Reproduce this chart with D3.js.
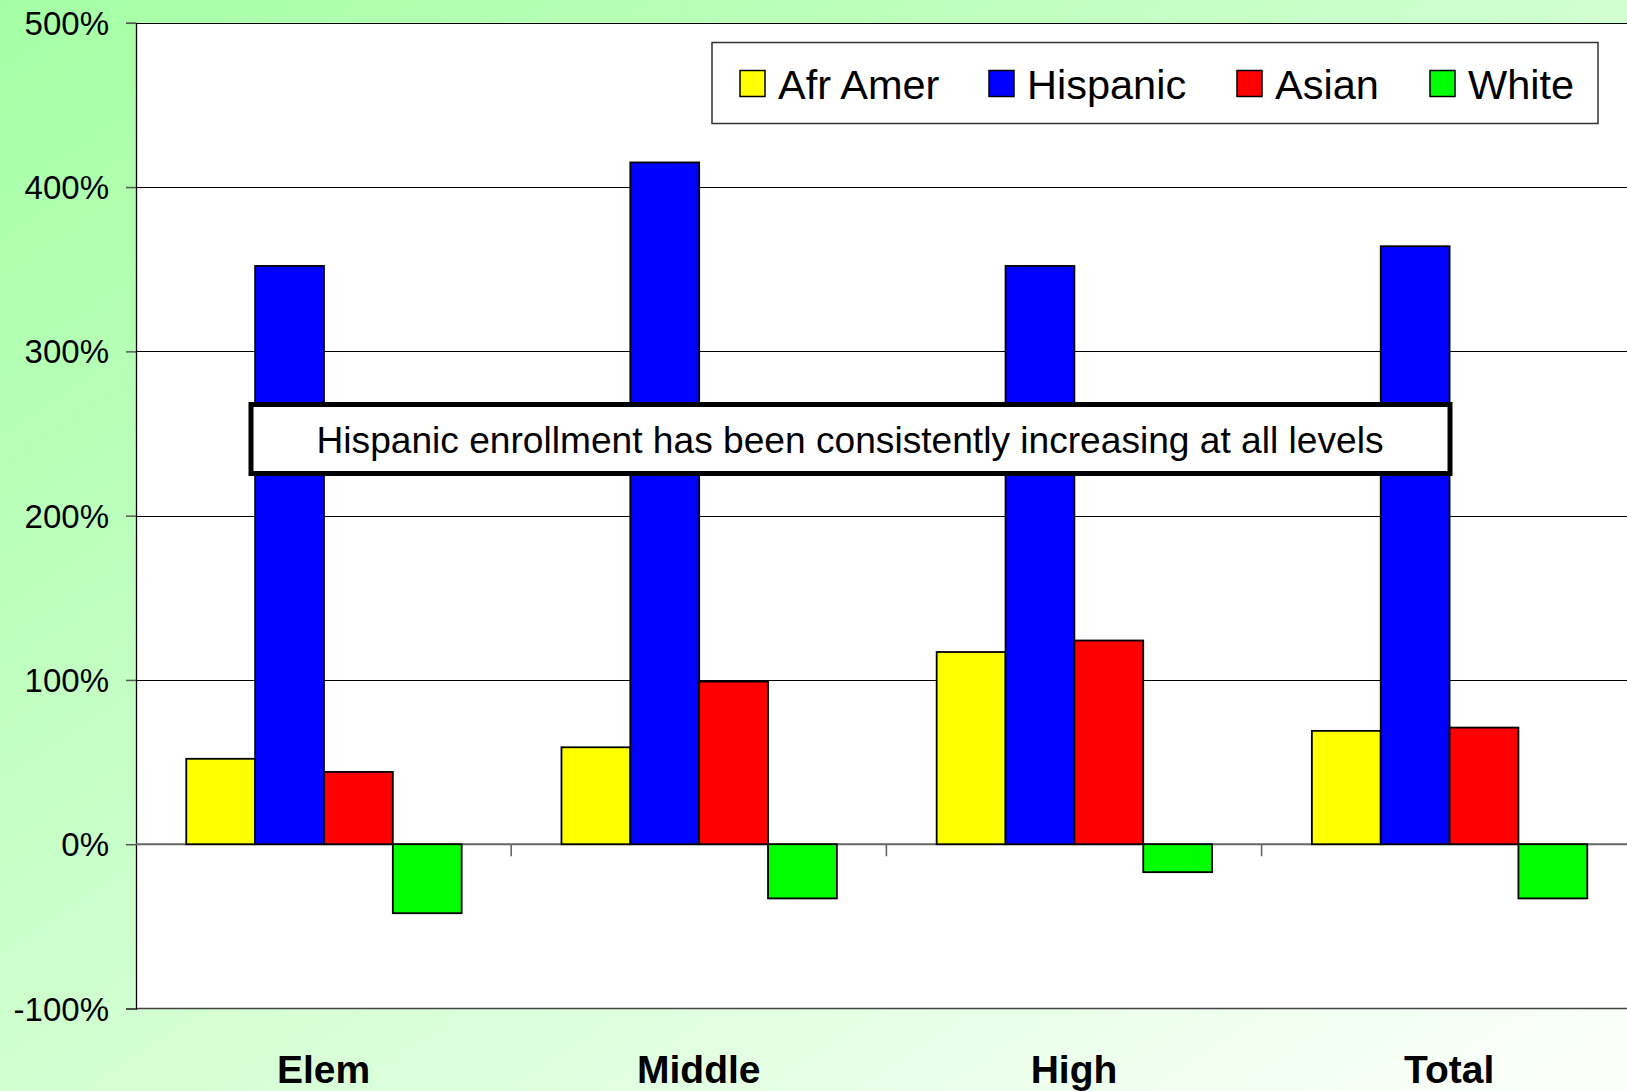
<!DOCTYPE html>
<html>
<head>
<meta charset="utf-8">
<script src="https://cdn.jsdelivr.net/npm/d3@7/dist/d3.min.js"></script>
<style>
html,body{margin:0;padding:0;overflow:hidden;}
svg{display:block;font-family:"Liberation Sans",Arial,sans-serif;}
</style>
</head>
<body>
<script>
const categories = ["Elem", "Middle", "High", "Total"];
const seriesNames = ["Afr Amer", "Hispanic", "Asian", "White"];
const seriesColors = ["#ffff00", "#0000ff", "#ff0000", "#00ff00"];
const afrAmer  = [52, 59, 117, 69];
const hispanic = [352, 415, 352, 364];
const asian    = [44, 99, 124, 71];
const white    = [-42, -33, -17, -33];
const yTicks = [-100, 0, 100, 200, 300, 400, 500];
const annotation = "Hispanic enrollment has been consistently increasing at all levels";

const seriesValues = [afrAmer, hispanic, asian, white];

(function () {
const W = 1627, H = 1091;
const svg = d3.select("body").append("svg").attr("width", W).attr("height", H);

const defs = svg.append("defs");
const grad = defs.append("linearGradient").attr("id", "bg")
  .attr("x1", 0).attr("y1", 0).attr("x2", 1).attr("y2", 1);
grad.append("stop").attr("offset", 0).attr("stop-color", "#a4ffa4");
grad.append("stop").attr("offset", 1).attr("stop-color", "#fdfffd");
svg.append("rect").attr("width", W).attr("height", H).attr("fill", "url(#bg)");

const pLeft = 136, pTop = 22.8, pBottom = 1008.5, bandW = 375.2;
const pRight = pLeft + bandW * categories.length;

const y = d3.scaleLinear().domain([-100, 500]).range([pBottom, pTop]);
const x = d3.scaleBand().domain(categories).range([pLeft, pRight]).padding(0);
const xs = d3.scaleBand().domain(seriesNames)
  .range([bandW * 0.134, bandW * 0.868]).padding(0);

// plot area
svg.append("rect").attr("x", pLeft).attr("y", pTop)
  .attr("width", pRight - pLeft).attr("height", pBottom - pTop).attr("fill", "#fff");

// gridlines
svg.append("g").selectAll("line").data(yTicks.filter(d => d > 0)).join("line")
  .attr("x1", pLeft).attr("x2", pRight)
  .attr("y1", d => Math.round(y(d)) + 0.5).attr("y2", d => Math.round(y(d)) + 0.5)
  .attr("stroke", "#000").attr("stroke-width", 1.2);

// bottom axis line (-100)
svg.append("line").attr("x1", pLeft).attr("x2", pRight)
  .attr("y1", y(-100)).attr("y2", y(-100))
  .attr("stroke", "#444").attr("stroke-width", 1.6);

// y axis
const yAxis = d3.axisLeft(y).tickValues(yTicks).tickSize(10).tickPadding(17)
  .tickFormat(d => d + "%");
const gy = svg.append("g").attr("transform", `translate(${pLeft},0)`).call(yAxis);
gy.select(".domain").attr("stroke", "#000").attr("stroke-width", 1.3);
gy.selectAll(".tick line").attr("stroke", "#555").attr("stroke-width", 1.5);
gy.selectAll(".tick text").attr("font-size", 33).attr("fill", "#000")
  .attr("font-family", "Liberation Sans, Arial, sans-serif").attr("dy", "0.35em");

// zero axis line
svg.append("line").attr("x1", pLeft).attr("x2", pRight)
  .attr("y1", y(0)).attr("y2", y(0))
  .attr("stroke", "#666").attr("stroke-width", 2);

// x category ticks at boundaries
svg.append("g").selectAll("line").data(categories.slice(1)).join("line")
  .attr("x1", d => x(d)).attr("x2", d => x(d))
  .attr("y1", y(0)).attr("y2", y(0) + 12)
  .attr("stroke", "#666").attr("stroke-width", 1.6);

// bars
const groups = svg.append("g").selectAll("g").data(categories).join("g")
  .attr("transform", d => `translate(${x(d)},0)`);
groups.selectAll("rect").data((c, ci) => seriesNames.map((s, si) => ({s, si, v: seriesValues[si][ci]})))
  .join("rect")
  .attr("x", d => xs(d.s))
  .attr("width", xs.bandwidth())
  .attr("y", d => y(Math.max(0, d.v)))
  .attr("height", d => Math.abs(y(d.v) - y(0)))
  .attr("fill", d => seriesColors[d.si])
  .attr("stroke", "#000").attr("stroke-width", 1.8);

// category labels
svg.append("g").selectAll("text").data(categories).join("text")
  .attr("x", d => x(d) + bandW / 2)
  .attr("y", 1083)
  .attr("text-anchor", "middle")
  .attr("font-size", 39).attr("font-weight", "bold")
  .text(d => d);

// legend
const lg = svg.append("g");
lg.append("rect").attr("x", 712).attr("y", 42.5).attr("width", 886).attr("height", 81)
  .attr("fill", "#fff").attr("stroke", "#333").attr("stroke-width", 1.5);
const legendX = [740, 989, 1237, 1430];
const li = lg.selectAll("g").data(seriesNames).join("g")
  .attr("transform", (d, i) => `translate(${legendX[i]},0)`);
li.append("rect").attr("x", 0).attr("y", 70.5).attr("width", 25).attr("height", 26)
  .attr("fill", (d, i) => seriesColors[i]).attr("stroke", "#000").attr("stroke-width", 1.5);
li.append("text").attr("x", 38).attr("y", 99).attr("font-size", 41.5)
  .text(d => d);

// annotation box
const ab = svg.append("g");
ab.append("rect").attr("x", 251).attr("y", 404.5).attr("width", 1199).attr("height", 69)
  .attr("fill", "#fff").attr("stroke", "#000").attr("stroke-width", 5);
ab.append("text").attr("x", 850).attr("y", 453).attr("text-anchor", "middle")
  .attr("font-size", 36.5).attr("textLength", 1067).attr("lengthAdjust", "spacingAndGlyphs")
  .text(annotation);
})();
</script>
</body>
</html>
